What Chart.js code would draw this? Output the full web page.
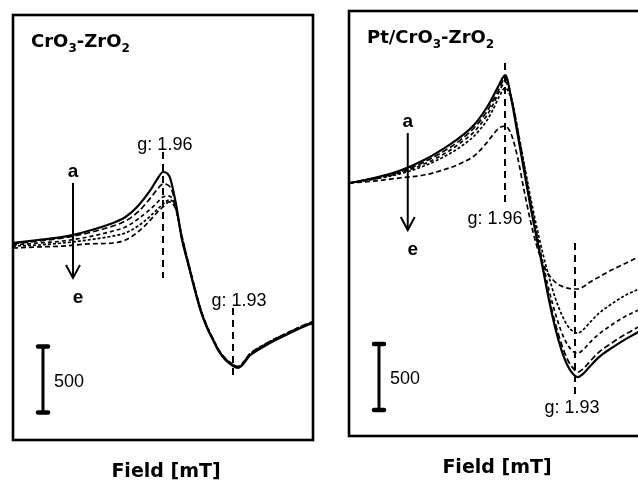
<!DOCTYPE html>
<html>
<head>
<meta charset="utf-8">
<script src="https://cdn.jsdelivr.net/npm/chart.js@4.4.1/dist/chart.umd.min.js"></script>
<style>
  html, body { margin: 0; padding: 0; background: #fff; width: 638px; height: 482px; overflow: hidden; }
  canvas { position: absolute; }
  #left { left: 0; top: 0; }
  #right { left: 336px; top: -4px; }
</style>
</head>
<body>
<canvas id="left" width="330" height="482"></canvas>
<canvas id="right" width="330" height="482"></canvas>
<script>
// EPR spectra, intensity in a.u. (scale bar = 500), field in mT
const seriesNames = ['a', 'b', 'c', 'd', 'e'];

// CrO3-ZrO2
const fieldL = [330, 332, 334, 336, 338, 339, 340, 341, 341.5, 342, 342.5, 343, 343.5, 344, 344.5, 345, 345.5, 346, 346.5, 347, 347.6, 348, 349, 350, 351, 352, 353, 354];
const aL = [15, 38, 61, 106, 167, 212, 296, 417, 493, 553, 523, 330, 50, -140, -325, -495, -622, -720, -811, -872, -917, -932, -834, -773, -720, -675, -629, -591];
const bL = [8, 30, 53, 91, 144, 182, 250, 356, 417, 462, 447, 320, 50, -136, -321, -491, -618, -716, -807, -868, -913, -928, -830, -769, -716, -671, -626, -588];
const cL = [0, 15, 30, 61, 106, 136, 197, 273, 318, 364, 371, 290, 60, -131, -317, -488, -615, -714, -805, -866, -910, -925, -826, -765, -712, -667, -622, -584];
const dL = [-8, 0, 15, 38, 68, 91, 144, 220, 265, 311, 341, 290, 70, -126, -312, -484, -612, -712, -803, -863, -908, -922, -822, -762, -709, -665, -620, -582];
const eL = [-23, -15, -8, 8, 15, 38, 99, 190, 243, 288, 326, 275, 70, -121, -307, -480, -610, -710, -800, -860, -905, -920, -820, -760, -708, -663, -618, -580];

// Pt/CrO3-ZrO2
const fieldR = [330, 332, 334, 336, 338, 339, 340, 341, 341.5, 342, 342.5, 343, 343.5, 344, 344.5, 345, 345.5, 346, 346.5, 347, 347.5, 348, 348.3, 348.7, 349.3, 350, 351, 352, 353, 354];
const aR = [0, 38, 91, 174, 288, 356, 440, 569, 652, 743, 819, 629, 364, 99, -167, -409, -644, -887, -1099, -1266, -1387, -1455, -1471, -1448, -1387, -1319, -1251, -1190, -1137, -1084];
const bR = [0, 38, 83, 159, 265, 333, 417, 538, 621, 712, 796, 644, 379, 114, -159, -402, -629, -864, -1061, -1220, -1341, -1410, -1433, -1410, -1349, -1281, -1213, -1152, -1099, -1046];
const cR = [0, 30, 76, 144, 243, 311, 387, 508, 591, 690, 765, 644, 402, 136, -129, -372, -599, -811, -985, -1129, -1228, -1281, -1289, -1266, -1205, -1144, -1076, -1016, -970, -925];
const dR = [0, 30, 68, 129, 220, 280, 356, 470, 553, 652, 720, 629, 402, 152, -98, -326, -531, -712, -871, -993, -1084, -1129, -1137, -1114, -1054, -986, -917, -856, -811, -773];
const eR = [0, 15, 38, 61, 114, 152, 205, 303, 364, 417, 432, 364, 190, -53, -280, -470, -606, -697, -750, -781, -796, -803, -803, -788, -750, -712, -659, -614, -568, -531];

const dashes = [[], [6, 3], [4, 3], [3, 2], [5, 3]];
const widths = [2.2, 1.7, 1.7, 1.7, 1.7];

const BOLD = 'bold 18px "DejaVu Sans"';
const REG = '18px "Liberation Sans"';

function line(ctx, x1, y1, x2, y2) {
  ctx.beginPath(); ctx.moveTo(x1, y1); ctx.lineTo(x2, y2); ctx.stroke();
}

function drawTitle(ctx, x, y, parts) {
  parts.forEach(p => {
    ctx.font = p[1] ? 'bold 12px "DejaVu Sans"' : BOLD;
    ctx.fillText(p[0], x, p[1] ? y + 5 : y);
    x += ctx.measureText(p[0]).width;
  });
}

function makePanel(id, field, series, ymin, ymax, ann) {
  const datasets = series.map((vals, i) => ({
    label: seriesNames[i],
    data: vals.map((v, k) => ({ x: field[k], y: v })),
    borderColor: '#000',
    borderWidth: widths[i],
    borderDash: dashes[i],
    pointRadius: 0,
    fill: false,
    cubicInterpolationMode: 'monotone'
  }));

  const extras = {
    id: 'extras',
    afterDraw(chart) {
      const ctx = chart.ctx, area = chart.chartArea;
      const xs = chart.scales.x, ys = chart.scales.y;
      const X = v => xs.getPixelForValue(v), Y = v => ys.getPixelForValue(v);
      ctx.save();
      ctx.strokeStyle = '#000';
      ctx.fillStyle = '#000';

      // frame
      ctx.lineWidth = 2.6;
      ctx.strokeRect(area.left, area.top, area.right - area.left, area.bottom - area.top);

      // title
      ctx.textAlign = 'left';
      ctx.textBaseline = 'alphabetic';
      drawTitle(ctx, area.left + 18, area.top + 32, ann.title);

      // g markers
      ctx.lineWidth = 2;
      ann.g.forEach(g => {
        ctx.setLineDash([7, 5]);
        line(ctx, X(g.field), Y(g.from), X(g.field), Y(g.to));
        ctx.setLineDash([]);
        ctx.font = REG;
        ctx.textAlign = 'center';
        ctx.fillText(g.label, X(g.lx), Y(g.ly));
      });

      // a -> e arrow
      const ax = X(ann.arrow.field), ay1 = Y(ann.arrow.from), ay2 = Y(ann.arrow.to);
      ctx.lineWidth = 2;
      line(ctx, ax, ay1, ax, ay2);
      ctx.beginPath();
      ctx.moveTo(ax - 7, ay2 - 13); ctx.lineTo(ax, ay2); ctx.lineTo(ax + 7, ay2 - 13);
      ctx.stroke();
      ctx.font = 'bold 19px "Liberation Sans"';
      ctx.textAlign = 'center';
      ctx.fillText('a', ax, ay1 - 6);
      ctx.fillText('e', ax + 5, ay2 + 25);

      // 500 scale bar
      const sx = X(ann.bar.field), sy1 = Y(ann.bar.from), sy2 = Y(ann.bar.from - 500);
      ctx.lineWidth = 3;
      line(ctx, sx, sy1, sx, sy2);
      ctx.lineWidth = 4.5;
      ctx.lineCap = 'round';
      line(ctx, sx - 5, sy1, sx + 5, sy1);
      line(ctx, sx - 5, sy2, sx + 5, sy2);
      ctx.font = REG;
      ctx.textAlign = 'left';
      ctx.textBaseline = 'middle';
      ctx.fillText('500', sx + 11, (sy1 + sy2) / 2 + 2);

      // axis title
      ctx.font = 'bold 19px "DejaVu Sans"';
      ctx.textAlign = 'center';
      ctx.textBaseline = 'alphabetic';
      ctx.fillText('Field [mT]', (area.left + area.right) / 2 + ann.titleShift, area.bottom + 37);
      ctx.restore();
    }
  };

  return new Chart(document.getElementById(id), {
    type: 'line',
    data: { datasets: datasets },
    options: {
      responsive: false,
      animation: false,
      layout: { padding: { left: 13, right: 17, top: 15, bottom: 42 } },
      plugins: { legend: { display: false }, tooltip: { enabled: false } },
      scales: {
        x: { type: 'linear', min: 330, max: 354, display: false },
        y: { min: ymin, max: ymax, display: false }
      }
    },
    plugins: [extras]
  });
}

makePanel('left', fieldL, [aL, bL, cL, dL, eL], -1478, 1743, {
  title: [['CrO', false], ['3', true], ['-ZrO', false], ['2', true]],
  g: [
    { field: 342.0, from: 705, to: -250, label: 'g: 1.96', lx: 342.15, ly: 720 },
    { field: 347.6, from: -478, to: -1023, label: 'g: 1.93', lx: 348.08, ly: -462 }
  ],
  arrow: { field: 334.8, from: 470, to: -250 },
  bar: { field: 332.4, from: -770 },
  titleShift: 3
});

makePanel('right', fieldR, [aR, bR, cR, dR, eR], -1917, 1304, {
  title: [['Pt/CrO', false], ['3', true], ['-ZrO', false], ['2', true]],
  g: [
    { field: 342.48, from: 910, to: -167, label: 'g: 1.96', lx: 341.68, ly: -311 },
    { field: 348.08, from: -455, to: -1607, label: 'g: 1.93', lx: 347.84, ly: -1743 }
  ],
  arrow: { field: 334.7, from: 379, to: -356 },
  bar: { field: 332.4, from: -1220 },
  titleShift: -2
});
</script>
</body>
</html>
